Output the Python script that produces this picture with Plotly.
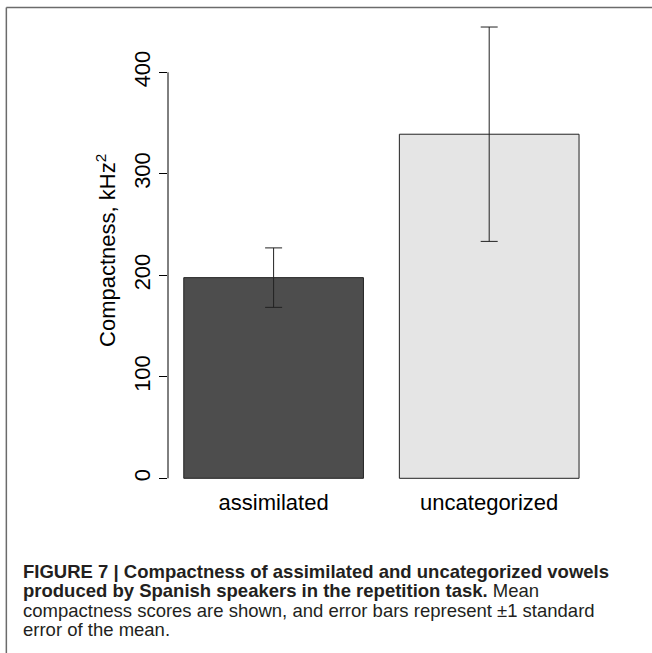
import plotly.graph_objects as go

# ---- data ----
categories = ["assimilated", "uncategorized"]
means = [197.7, 339.0]
std_errors = [29.3, 105.6]
bar_colors = ["#4d4d4d", "#e5e5e5"]
y_ticks = [0, 100, 200, 300, 400]
y_title = "Compactness, kHz<sup>2</sup>"
caption_lines = [
    "<b>FIGURE 7 | Compactness of assimilated and uncategorized vowels</b>",
    "<b>produced by Spanish speakers in the repetition task.</b> Mean",
    "compactness scores are shown, and error bars represent \u00b11 standard",
    "error of the mean.",
]

W, H = 652, 653
L, R, T, B = 168, 57.4, 3, 171
pw, ph = W - L - R, H - T - B

def px_x(px):
    return (px - L) / pw

def px_y(py):
    return (H - B - py) / ph

FONT = "Liberation Sans, Arial, sans-serif"

fig = go.Figure()
fig.add_trace(go.Bar(
    x=categories, y=means, width=1 / 1.2,
    marker=dict(color=bar_colors, line=dict(color="#222222", width=1)),
    error_y=dict(type="data", array=std_errors, visible=True,
                 color="#222222", thickness=1, width=8.5),
    showlegend=False, hoverinfo="skip",
))

fig.update_layout(
    width=W, height=H,
    margin=dict(l=L, r=R, t=T, b=B, pad=0),
    paper_bgcolor="white", plot_bgcolor="white",
    font=dict(family=FONT, color="black"),
    xaxis=dict(range=[-0.4898, 1.4907], showline=False, showgrid=False,
               zeroline=False, ticks="", tickfont=dict(size=22, color="black"),
               ticklabelstandoff=5),
    yaxis=dict(range=[-3.645, -3.645 + ph / 1.015], tickvals=y_ticks,
               ticktext=[str(v) for v in y_ticks], showline=False,
               showgrid=False, zeroline=False, ticks="outside", ticklen=8,
               tickwidth=1, tickcolor="black", tickangle=-90,
               tickfont=dict(size=22, color="black")),
)

# y axis line spanning first to last tick
fig.add_shape(type="line", xref="paper", yref="y", x0=0, x1=0,
              y0=y_ticks[0], y1=y_ticks[-1], line=dict(color="black", width=1))

# y axis title
fig.add_annotation(text=y_title, xref="paper", yref="paper",
                   x=px_x(106), y=px_y(250), xanchor="center", yanchor="middle",
                   textangle=-90, showarrow=False,
                   font=dict(size=22, color="black", family=FONT))

# frame lines (top and left)
fig.add_shape(type="line", xref="paper", yref="paper",
              x0=px_x(6.5), x1=px_x(W + 2), y0=px_y(7.5), y1=px_y(7.5),
              line=dict(color="#6b6b6b", width=1.5))
fig.add_shape(type="line", xref="paper", yref="paper",
              x0=px_x(6.5), x1=px_x(6.5), y0=px_y(7.5), y1=px_y(H + 2),
              line=dict(color="#6b6b6b", width=1.5))

# caption
baselines = [577.5, 597, 616.5, 635.5]
for line, bl in zip(caption_lines, baselines):
    fig.add_annotation(text=line, xref="paper", yref="paper",
                       x=px_x(21), y=px_y(bl - 6.3), xanchor="left",
                       yanchor="middle", showarrow=False, align="left",
                       font=dict(size=18.5, color="#231f20", family=FONT))

fig.write_html("out.html")
